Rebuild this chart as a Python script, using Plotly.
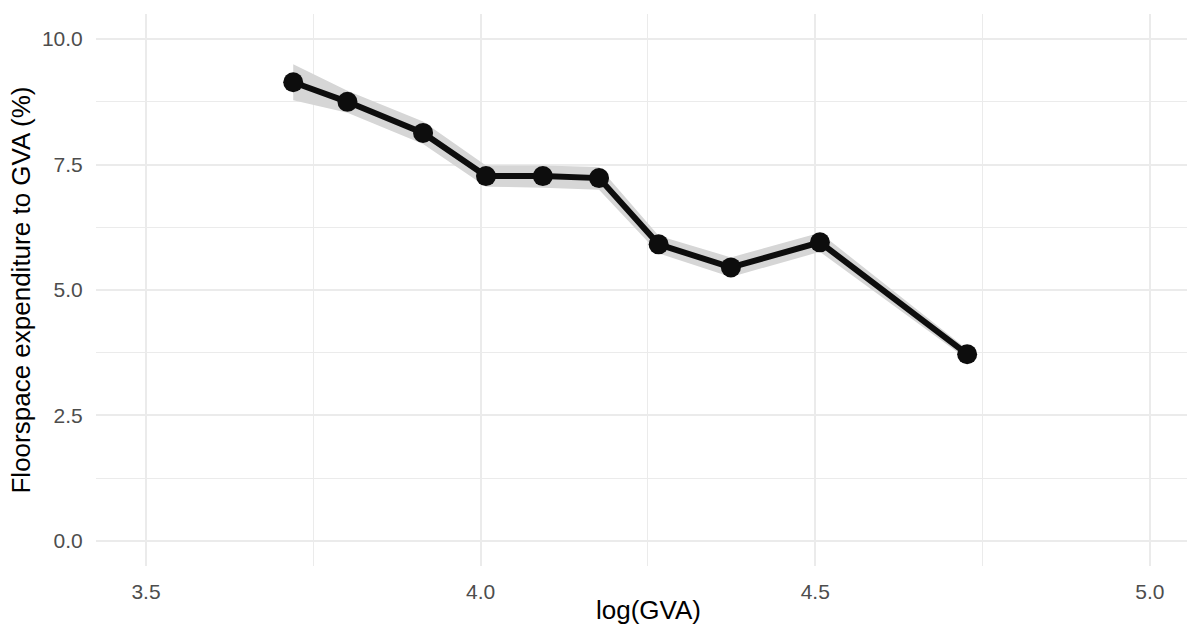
import plotly.graph_objects as go

log_gva = [3.720, 3.801, 3.914, 4.008, 4.093, 4.177, 4.266, 4.374, 4.507, 4.727]
share = [9.14, 8.75, 8.13, 7.27, 7.27, 7.23, 5.91, 5.45, 5.95, 3.72]
lower = [8.78, 8.53, 7.91, 7.06, 7.04, 7.00, 5.73, 5.26, 5.76, 3.62]
upper = [9.50, 8.97, 8.36, 7.48, 7.48, 7.45, 6.08, 5.65, 6.14, 3.82]

x_ticks = [3.5, 4.0, 4.5, 5.0]
x_tick_labels = ["3.5", "4.0", "4.5", "5.0"]
y_ticks = [0, 2.5, 5, 7.5, 10]
y_tick_labels = ["0.0", "2.5", "5.0", "7.5", "10.0"]

fig = go.Figure()
fig.add_trace(go.Scatter(x=log_gva, y=lower, mode="lines", line=dict(width=0),
                         showlegend=False, hoverinfo="skip"))
fig.add_trace(go.Scatter(x=log_gva, y=upper, mode="lines", line=dict(width=0),
                         fill="tonexty", fillcolor="#d6d6d6",
                         showlegend=False, hoverinfo="skip"))
fig.add_trace(go.Scatter(x=log_gva, y=share, mode="lines+markers",
                         line=dict(color="#0d0d0d", width=6),
                         marker=dict(color="#0d0d0d", size=20),
                         showlegend=False))

font_family = "Liberation Sans, Arial, sans-serif"
fig.update_layout(
    width=1187, height=625,
    margin=dict(l=96, r=0, t=14, b=59),
    paper_bgcolor="white", plot_bgcolor="white",
    font=dict(family=font_family),
    xaxis=dict(
        range=[3.4253, 5.0555], tickvals=x_ticks, ticktext=x_tick_labels,
        showgrid=True, gridcolor="#ebebeb", gridwidth=1.5,
        minor=dict(dtick=0.25, tick0=3.25, showgrid=True, gridcolor="#ebebeb", gridwidth=0.8),
        zeroline=False, showline=False,
        ticks="outside", ticklen=7, tickcolor="rgba(0,0,0,0)",
        tickfont=dict(size=21, color="#4d4d4d", family=font_family),
    ),
    yaxis=dict(
        range=[-0.5, 10.5], tickvals=y_ticks, ticktext=y_tick_labels,
        showgrid=True, gridcolor="#ebebeb", gridwidth=1.5,
        minor=dict(dtick=1.25, tick0=0, showgrid=True, gridcolor="#ebebeb", gridwidth=0.8),
        zeroline=False, showline=False,
        ticks="outside", ticklen=8, tickcolor="rgba(0,0,0,0)",
        tickfont=dict(size=21, color="#4d4d4d", family=font_family),
        title=dict(text="Floorspace expenditure to GVA (%)", font=dict(size=26, color="black", family=font_family), standoff=3),
    ),
    annotations=[dict(
        text="log(GVA)", xref="paper", yref="paper", x=0.506, y=0,
        xanchor="center", yanchor="top", yshift=-27, showarrow=False,
        font=dict(size=26, color="black", family=font_family),
    )],
)

fig.write_html("out.html")
